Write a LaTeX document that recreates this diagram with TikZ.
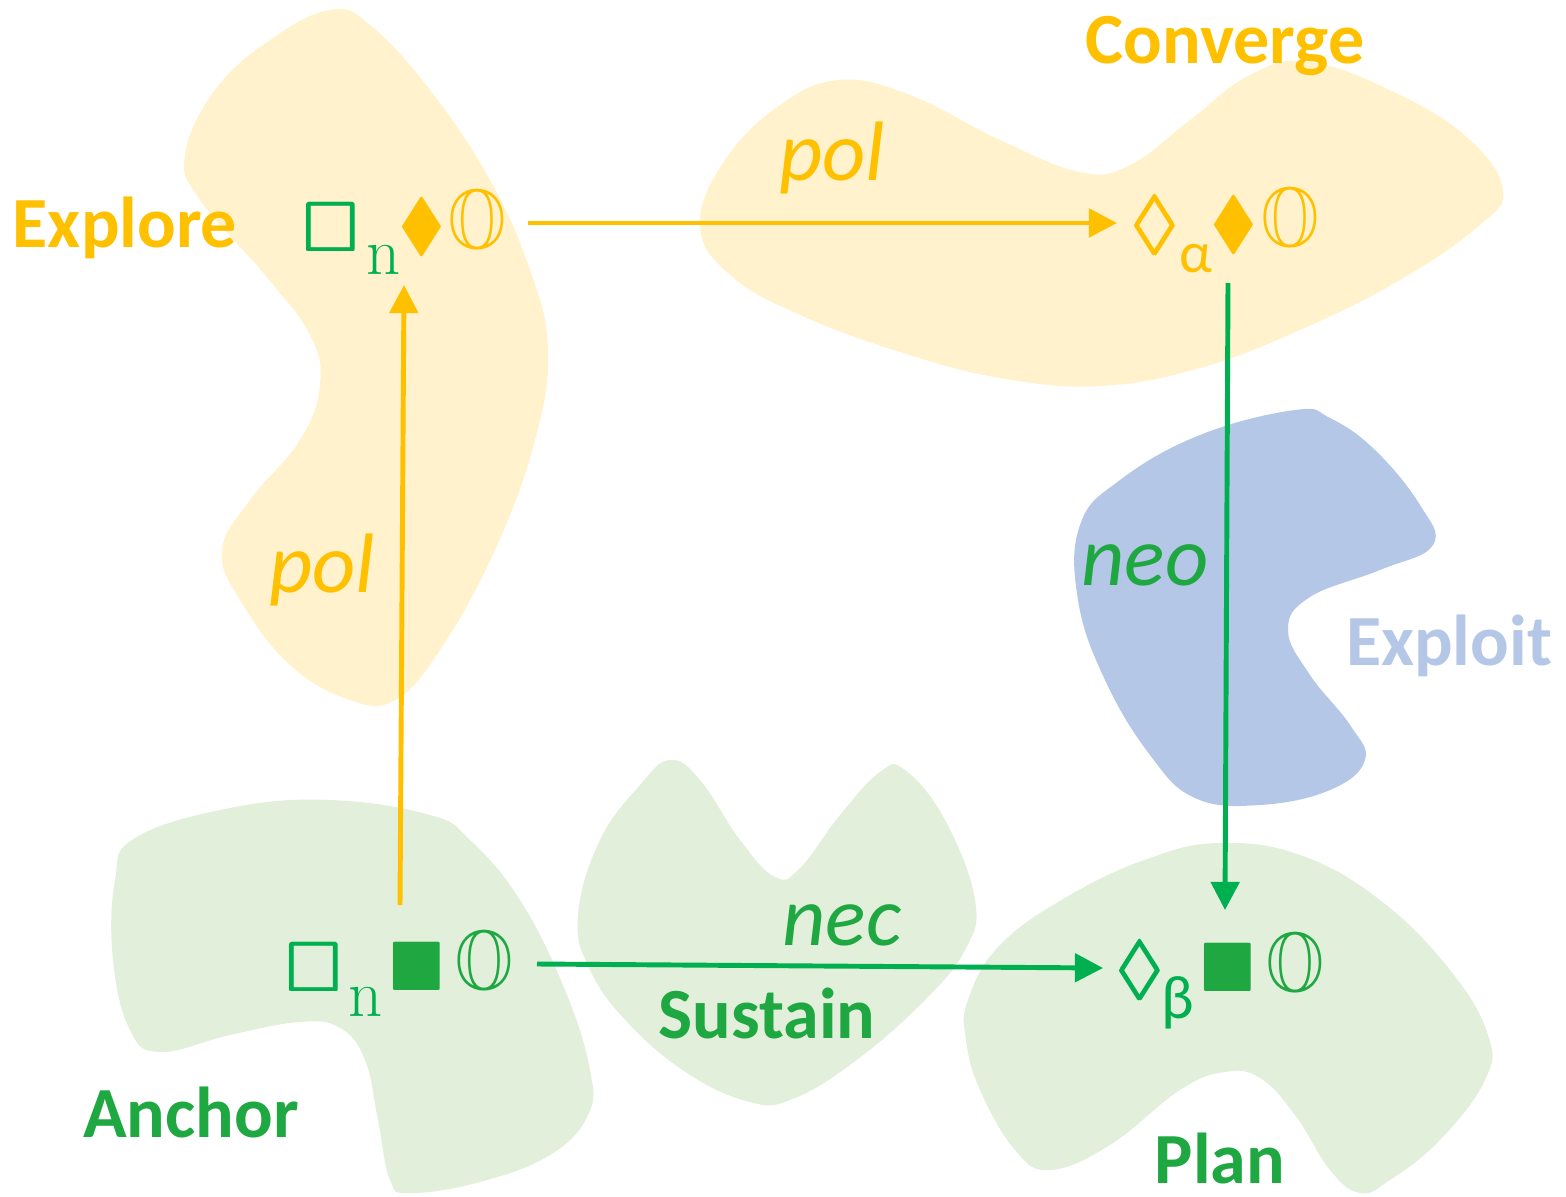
\documentclass[tikz,border=0pt]{standalone}
\usepackage{amsmath}
\usepackage{amssymb}
\usepackage{fontspec}
\setmainfont{Carlito}
\usetikzlibrary{arrows.meta}
\usetikzlibrary{calc}

\definecolor{gold}{HTML}{FFC000}
\definecolor{paleyellow}{HTML}{FFF2CC}
\definecolor{leaf}{HTML}{00B050}
\definecolor{forest}{RGB}{31,167,66}
\definecolor{palegreen}{HTML}{E2EFDA}
\definecolor{paleblue}{HTML}{B4C7E7}

\begin{document}
\begin{tikzpicture}[x=0.02cm, y=-0.02cm,
    sym/.style={inner sep=0pt, font=\fontsize{40}{40}\selectfont},
    bigsym/.style={inner sep=0pt, font=\fontsize{48}{48}\selectfont},
    subsc/.style={inner sep=0pt, font=\fontsize{38}{38}\selectfont},
    region/.style={inner sep=0pt, anchor=base, text depth=0pt, font=\fontsize{41}{41}\selectfont\bfseries},
    modal/.style={inner sep=0pt, anchor=base, font=\fontsize{48}{48}\selectfont\itshape},
    link/.style={line width=2.8pt, -{Triangle[length=16pt, width=16pt]}}]

    \useasboundingbox (0,0) rectangle (1566,1197);

    % Regions
    \fill[paleyellow] plot[smooth cycle, tension=0.7] coordinates {(330,10) (270,40) (215,90) (185,155) (200,200) (265,275) (310,335) (320,385) (300,440) (250,500) (222,550) (240,600) (290,665) (350,700) (395,700) (440,650) (495,550) (535,440) (548,350) (530,270) (490,180) (430,90) (370,25)};
    \fill[paleyellow] plot[smooth cycle, tension=0.7] coordinates {(700,225) (725,160) (780,105) (840,80) (910,95) (1000,140) (1080,172) (1130,165) (1190,120) (1250,75) (1310,62) (1400,95) (1470,140) (1503,190) (1480,225) (1400,280) (1300,330) (1200,368) (1100,386) (1000,378) (900,352) (800,315) (730,275)};
    \fill[paleblue] plot[smooth cycle, tension=0.7] coordinates {(1295,410) (1200,435) (1120,480) (1080,525) (1078,600) (1105,680) (1150,755) (1195,798) (1260,805) (1330,790) (1365,760) (1350,725) (1310,675) (1288,630) (1310,597) (1380,570) (1433,545) (1420,505) (1375,450) (1330,418)};
    \fill[palegreen] plot[smooth cycle, tension=0.7] coordinates {(135,838) (230,808) (330,800) (430,815) (470,840) (520,900) (565,990) (590,1070) (588,1115) (550,1155) (480,1182) (410,1193) (390,1180) (378,1120) (365,1060) (340,1028) (300,1022) (230,1035) (160,1052) (130,1030) (113,960) (115,880)};
    \fill[palegreen] plot[smooth cycle, tension=0.7] coordinates {(578,915) (600,840) (640,785) (670,760) (700,780) (740,840) (775,877) (800,868) (840,815) (880,772) (905,770) (945,820) (975,900) (965,950) (920,1005) (850,1065) (790,1100) (750,1102) (690,1075) (630,1025) (590,970)};
    \fill[palegreen] plot[smooth cycle, tension=0.7] coordinates {(968,1000) (1000,945) (1070,895) (1150,858) (1220,843) (1300,855) (1380,900) (1450,970) (1488,1035) (1485,1080) (1440,1140) (1390,1180) (1360,1193) (1330,1170) (1295,1115) (1260,1078) (1225,1072) (1180,1090) (1110,1145) (1050,1170) (1015,1150) (980,1090) (966,1040)};

    % Region names
    \node[region, text=gold] (explore) at (125,247) {Explore};
    \node[region, text=gold] (converge) at (1225,63) {Converge};
    \node[region, text=paleblue] (exploit) at (1449,665) {Exploit};
    \node[region, text=forest] (sustain) at (767,1038) {Sustain};
    \node[region, text=forest] (anchor) at (191,1137) {Anchor};
    \node[region, text=forest] (plan) at (1220,1183) {Plan};

    % Formulas
    \node[sym, text=leaf] (exbox) at (332,227) {$\pmb{\square}$};
    \node[subsc, text=leaf] (exsub) at (384,260) {\fontfamily{lmr}\selectfont n};
    \node[sym, text=gold] (exdia) at (422,227) {$\blacklozenge$};
    \node[bigsym, text=gold] (exO) at (477,226) {\scalebox{0.88}[1]{$\mathbb{O}$}};

    \node[sym, text=gold] (cvloz) at (1156,225) {$\pmb{\lozenge}$};
    \node[subsc, text=gold, font=\fontsize{33}{33}\selectfont] (cvsub) at (1196,259) {α};
    \node[sym, text=gold] (cvdia) at (1234,225) {$\blacklozenge$};
    \node[bigsym, text=gold] (cvO) at (1290,224) {\scalebox{0.88}[1]{$\mathbb{O}$}};

    \node[sym, text=leaf] (anbox) at (315,967) {$\pmb{\square}$};
    \node[subsc, text=leaf] (ansub) at (366,1002) {\fontfamily{lmr}\selectfont n};
    \node[sym, text=forest] (anblk) at (417,967) {$\blacksquare$};
    \node[bigsym, text=forest] (anO) at (484,967) {\scalebox{0.88}[1]{$\mathbb{O}$}};

    \node[sym, text=leaf] (plloz) at (1141,970) {$\pmb{\lozenge}$};
    \node[subsc, text=leaf, font=\fontsize{35}{35}\selectfont] (plsub) at (1178,1003) {β};
    \node[sym, text=forest] (plblk) at (1228,968) {$\blacksquare$};
    \node[bigsym, text=forest] (plO) at (1295,969) {\scalebox{0.88}[1]{$\mathbb{O}$}};

    % Arrows
    \draw[link, gold] ($(exO)+(51,-3)$) -- ($(cvloz)+(-39,-2)$);
    \draw[link, gold] ($(anblk)+(-17,-62)$) -- ($(exdia)+(-18,58)$);
    \draw[link, leaf] ($(cvdia)+(-6,58)$) -- ($(plblk)+(-3,-58)$);
    \draw[link, leaf] ($(anO)+(53,-3)$) -- ($(plloz)+(-38,-2)$);

    % Modalities
    \node[modal, text=gold] (poltop) at (832,180) {pol};
    \node[modal, text=gold] (polup) at (322,592) {pol};
    \node[modal, text=forest] (neo) at (1145,585) {neo};
    \node[modal, text=forest] (nec) at (842,945) {nec};

\end{tikzpicture}
\end{document}
